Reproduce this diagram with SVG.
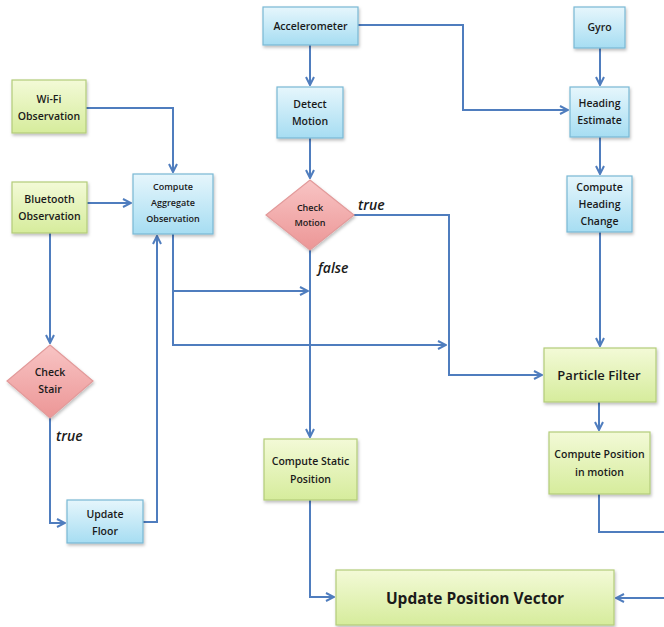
<svg xmlns="http://www.w3.org/2000/svg" width="664" height="627" viewBox="0 0 664 627">
<defs>
<linearGradient id="gGreen" x1="0" y1="0" x2="0" y2="1"><stop offset="0" stop-color="#f3fad7"/><stop offset="1" stop-color="#d6ec9c"/></linearGradient>
<linearGradient id="gBlue" x1="0" y1="0" x2="0" y2="1"><stop offset="0" stop-color="#e6f6fc"/><stop offset="1" stop-color="#a6ddf2"/></linearGradient>
<linearGradient id="gPink" x1="0" y1="0" x2="0" y2="1"><stop offset="0" stop-color="#f8c4c4"/><stop offset="1" stop-color="#ec9696"/></linearGradient>
<filter id="sh" x="-10%" y="-10%" width="130%" height="130%"><feDropShadow dx="1" dy="2" stdDeviation="1.5" flood-color="#000" flood-opacity="0.25"/></filter>
<marker id="arr" viewBox="0 0 10 10" refX="9" refY="5" markerWidth="10" markerHeight="10" markerUnits="userSpaceOnUse" orient="auto">
<path d="M1,1 L9,5 L1,9" fill="none" stroke="#4f7dbe" stroke-width="2"/>
</marker>
</defs>
<style>
.g{fill:url(#gGreen);stroke:#b3cc7a;stroke-width:1.2;filter:url(#sh)}
.b{fill:url(#gBlue);stroke:#79b8d4;stroke-width:1.2;filter:url(#sh)}
.p{fill:url(#gPink);stroke:#e29a9a;stroke-width:1.2;filter:url(#sh)}
text{font-family:"Open Sans","Liberation Sans",sans-serif;font-weight:600;fill:#1a1a1a;text-anchor:middle}
.t{font-size:10.5px}
.s{font-size:9px}
.lbl{font-size:14px;font-style:italic;text-anchor:start;font-weight:600}
.c{fill:none;stroke:#4f7dbe;stroke-width:2}
</style>
<rect width="664" height="627" fill="#fff"/>
<g id="connectors">
<path class="c" d="M86,108 H173 V172" marker-end="url(#arr)"/>
<path class="c" d="M87,203 H131" marker-end="url(#arr)"/>
<path class="c" d="M50,233 V343" marker-end="url(#arr)"/>
<path class="c" d="M50,418 V523 H65" marker-end="url(#arr)"/>
<path class="c" d="M143,522 H157 V236" marker-end="url(#arr)"/>
<path class="c" d="M173,234 V345 H446" marker-end="url(#arr)"/>
<path class="c" d="M173,291 H308" marker-end="url(#arr)"/>
<path class="c" d="M354,215 H449 V375 H542" marker-end="url(#arr)"/>
<path class="c" d="M310,250 V437" marker-end="url(#arr)"/>
<path class="c" d="M310,45 V85" marker-end="url(#arr)"/>
<path class="c" d="M310,138 V178" marker-end="url(#arr)"/>
<path class="c" d="M358,25 H463 V110 H568" marker-end="url(#arr)"/>
<path class="c" d="M600,48 V85" marker-end="url(#arr)"/>
<path class="c" d="M600,137 V174" marker-end="url(#arr)"/>
<path class="c" d="M600,232 V346" marker-end="url(#arr)"/>
<path class="c" d="M599,402 V430" marker-end="url(#arr)"/>
<path class="c" d="M599,494 V532 H670 V598 H616" marker-end="url(#arr)"/>
<path class="c" d="M310,500 V597 H334" marker-end="url(#arr)"/>
</g>
<g id="wifi"><rect class="g" x="12" y="80" width="74" height="53"/><text class="t" x="49" y="103">Wi-Fi</text><text class="t" x="49" y="120">Observation</text></g>
<g id="bluetooth"><rect class="g" x="12" y="182" width="75" height="51"/><text class="t" x="49.5" y="203">Bluetooth</text><text class="t" x="49.5" y="220">Observation</text></g>
<g id="aggregate"><rect class="b" x="133" y="174" width="80" height="60"/><text class="s" x="173" y="190">Compute</text><text class="s" x="173" y="206">Aggregate</text><text class="s" x="173" y="222">Observation</text></g>
<g id="accel"><rect class="b" x="263" y="7" width="95" height="38"/><text class="t" x="310.5" y="30">Accelerometer</text></g>
<g id="detect"><rect class="b" x="277" y="87" width="66" height="51"/><text class="t" x="310" y="108">Detect</text><text class="t" x="310" y="125">Motion</text></g>
<g id="checkmotion"><polygon class="p" points="310,180 354,215 310,250 266,215"/><text class="s" x="310" y="211">Check</text><text class="s" x="310" y="226">Motion</text></g>
<g id="gyro"><rect class="b" x="574" y="7" width="51" height="41"/><text class="t" x="599.5" y="31">Gyro</text></g>
<g id="heading"><rect class="b" x="570" y="87" width="59" height="50"/><text class="t" x="599.5" y="107">Heading</text><text class="t" x="599.5" y="124">Estimate</text></g>
<g id="headingchange"><rect class="b" x="567" y="176" width="65" height="56"/><text class="t" x="599.5" y="191">Compute</text><text class="t" x="599.5" y="208">Heading</text><text class="t" x="599.5" y="225">Change</text></g>
<g id="checkstair"><polygon class="p" points="50,345 93,381 50,418 7,381"/><text class="t" x="50" y="376">Check</text><text class="t" x="50" y="393">Stair</text></g>
<g id="updatefloor"><rect class="b" x="67" y="500" width="76" height="43"/><text class="t" x="105" y="518">Update</text><text class="t" x="105" y="535">Floor</text></g>
<g id="particle"><rect class="g" x="544" y="348" width="112" height="54"/><text x="599" y="380" style="font-size:13px">Particle Filter</text></g>
<g id="motionpos"><rect class="g" x="549" y="432" width="101" height="62"/><text class="t" x="599.5" y="458">Compute  Position</text><text class="t" x="599.5" y="476">in motion</text></g>
<g id="staticpos"><rect class="g" x="264" y="439" width="93" height="61"/><text class="t" x="310.5" y="465">Compute Static</text><text class="t" x="310.5" y="483">Position</text></g>
<g id="updatevector"><rect class="g" x="336" y="570" width="278" height="55"/><text x="475" y="604" style="font-size:15.5px;font-weight:700">Update Position Vector</text></g>
<text class="lbl" x="358" y="210">true</text>
<text class="lbl" x="318" y="273">false</text>
<text class="lbl" x="56" y="441">true</text>
</svg>
